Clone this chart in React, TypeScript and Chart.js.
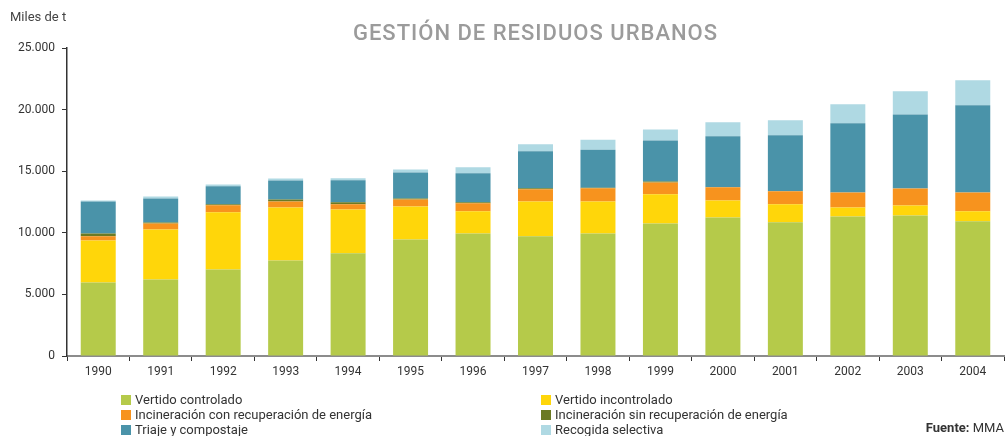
import React, { useEffect, useRef } from "react";
import { Chart, registerables } from "chart.js";

Chart.register(...registerables);

const categories = ["1990", "1991", "1992", "1993", "1994", "1995", "1996", "1997", "1998", "1999", "2000", "2001", "2002", "2003", "2004"];
const vertidoControlado = [5970, 6210, 7030, 7760, 8330, 9460, 9950, 9710, 9950, 10760, 11250, 10850, 11330, 11410, 10930];
const vertidoIncontrolado = [3410, 4060, 4630, 4300, 3570, 2680, 1790, 2840, 2600, 2360, 1380, 1460, 730, 810, 810];
const incineracionCon = [330, 490, 570, 490, 410, 570, 650, 980, 1060, 970, 1060, 1060, 1220, 1380, 1540];
const incineracionSin = [240, 80, 80, 160, 160, 80, 80, 80, 40, 80, 0, 0, 0, 0, 0];
const triajeCompostaje = [2600, 1950, 1460, 1540, 1790, 2110, 2360, 3010, 3090, 3330, 4140, 4550, 5610, 6010, 7070];
const recogidaSelectiva = [80, 160, 160, 160, 160, 240, 490, 570, 810, 890, 1140, 1220, 1540, 1870, 2030];

const seriesLabels = [
  "Vertido controlado",
  "Vertido incontrolado",
  "Incineración con recuperación de energía",
  "Incineración sin recuperación de energía",
  "Triaje y compostaje",
  "Recogida selectiva",
];
const seriesColors = ["#b5ca4a", "#ffd60a", "#f7931e", "#6b7a23", "#4a93a9", "#afd9e3"];
const yTicks = [0, 5000, 10000, 15000, 20000, 25000];

const TITLE = "GESTIÓN DE RESIDUOS URBANOS";
const UNIT = "Miles de t";

const FONT = "Roboto, 'Noto Sans', sans-serif";

function fmt(v: number): string {
  return String(v).replace(/\B(?=(\d{3})+(?!\d))/g, ".");
}

const decorPlugin = {
  id: "decor",
  afterDraw(chart: any) {
    const ctx = chart.ctx as any;
    ctx.save();
    // title
    ctx.fillStyle = "#9b9b9b";
    ctx.font = `500 22px ${FONT}`;
    ctx.letterSpacing = "1px";
    ctx.textAlign = "center";
    ctx.textBaseline = "alphabetic";
    const ca = chart.chartArea;
    ctx.fillText(TITLE, (ca.left + ca.right) / 2, 40);
    ctx.letterSpacing = "0px";
    // unit
    ctx.fillStyle = "#444";
    ctx.font = `13px ${FONT}`;
    ctx.textAlign = "left";
    ctx.fillText(UNIT, 10, 21);
    // legend
    ctx.textBaseline = "middle";
    chart.data.datasets.forEach((ds: any, i: number) => {
      const col = i % 2;
      const row = Math.floor(i / 2);
      const x0 = col === 0 ? 121 : 541;
      const y = 400 + row * 15;
      ctx.fillStyle = ds.backgroundColor;
      ctx.fillRect(x0, y - 5, 10, 10);
      ctx.fillStyle = "#333";
      ctx.font = `13px ${FONT}`;
      ctx.fillText(ds.label, x0 + 14, y + 0.5);
    });
    // source
    ctx.textBaseline = "middle";
    ctx.font = `bold 13px ${FONT}`;
    const bold = "Fuente: ";
    const bw = ctx.measureText(bold).width;
    ctx.font = `13px ${FONT}`;
    const rw = ctx.measureText("MMA").width;
    const sx = 1004 - bw - rw;
    ctx.font = `bold 13px ${FONT}`;
    ctx.fillStyle = "#333";
    ctx.fillText(bold, sx, 429);
    ctx.font = `13px ${FONT}`;
    ctx.fillText("MMA", sx + bw, 429);
    ctx.restore();
  },
};

export default function App() {
  const ref = useRef<HTMLCanvasElement>(null);
  useEffect(() => {
    if (!ref.current) return;
    const series = [vertidoControlado, vertidoIncontrolado, incineracionCon, incineracionSin, triajeCompostaje, recogidaSelectiva];
    const chart = new Chart(ref.current, {
      type: "bar",
      data: {
        labels: categories,
        datasets: series.map((d, i) => ({
          label: seriesLabels[i],
          data: d,
          backgroundColor: seriesColors[i],
          borderWidth: 0,
          barPercentage: 0.56,
          categoryPercentage: 1,
        })),
      },
      options: {
        responsive: false,
        animation: false,
        layout: { padding: { top: 48, right: 1, bottom: 55, left: 0 } },
        plugins: {
          legend: { display: false },
          title: { display: false },
          tooltip: { enabled: false },
        },
        scales: {
          x: {
            stacked: true,
            grid: {
              offset: true,
              drawOnChartArea: false,
              drawTicks: true,
              tickLength: 5,
              color: "#333",
              lineWidth: 1,
            },
            border: { display: true, color: "#8c8c8c", width: 2 },
            ticks: { color: "#333", font: { family: FONT, size: 12 }, padding: 4 },
            afterFit: (s: any) => {
              s.height = 25;
            },
          },
          y: {
            stacked: true,
            min: 0,
            max: 25000,
            afterBuildTicks: (s: any) => {
              s.ticks = yTicks.map((v) => ({ value: v }));
            },
            grid: {
              drawOnChartArea: false,
              drawTicks: true,
              tickLength: 5,
              color: "#333",
              lineWidth: 1,
            },
            border: { display: true, color: "#333", width: 1.5 },
            ticks: {
              color: "#333",
              font: { family: FONT, size: 12 },
              padding: 7,
              callback: (v: any) => fmt(Number(v)),
            },
            afterFit: (s: any) => {
              s.width = 67;
            },
          },
        },
      },
      plugins: [decorPlugin],
    });
    return () => chart.destroy();
  }, []);
  return (
    <>
      <style>{`body{margin:0}`}</style>
      <canvas ref={ref} width={1005} height={436} style={{ display: "block" }} />
    </>
  );
}
